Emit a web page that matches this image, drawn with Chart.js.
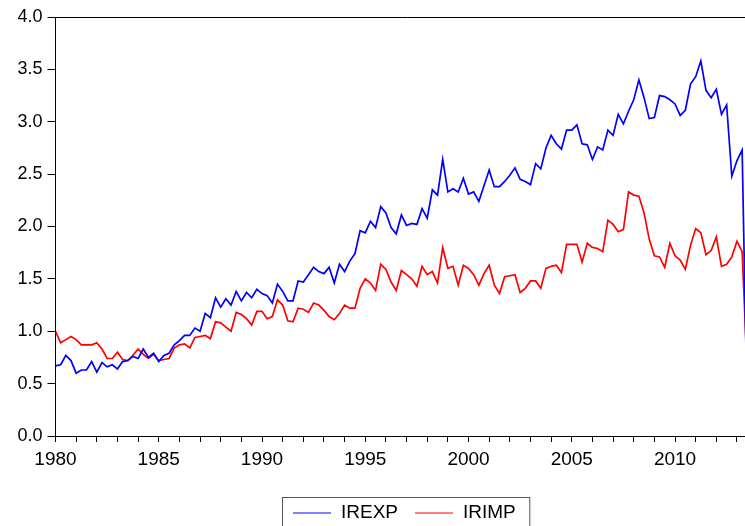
<!DOCTYPE html>
<html>
<head>
<meta charset="utf-8">
<script src="https://cdn.jsdelivr.net/npm/chart.js@4/dist/chart.umd.min.js"></script>
<style>
html, body { margin: 0; padding: 0; overflow: hidden; background: #fff; }
#wrap { width: 745px; height: 526px; overflow: hidden; }
#box { width: 760px; height: 526px; }
</style>
</head>
<body>
<div id="wrap"><div id="box"><canvas id="myChart"></canvas></div></div>
<script>
// quarterly series, first observation 1980Q1
const startYear = 1980;
const seriesNames = ['IREXP', 'IRIMP'];

const irexp = [
    0.67, 0.68, 0.77, 0.72, 0.60, 0.63, 0.63, 0.71, 0.61, 0.70,
    0.66, 0.68, 0.64, 0.71, 0.72, 0.76, 0.74, 0.83, 0.75, 0.79,
    0.71, 0.77, 0.79, 0.87, 0.91, 0.96, 0.96, 1.03, 1.00, 1.17,
    1.13, 1.32, 1.23, 1.31, 1.25, 1.38, 1.29, 1.37, 1.32, 1.40,
    1.36, 1.34, 1.27, 1.45, 1.38, 1.29, 1.29, 1.48, 1.47, 1.54,
    1.61, 1.57, 1.55, 1.61, 1.46, 1.64, 1.57, 1.67, 1.74, 1.96,
    1.94, 2.05, 1.99, 2.19, 2.13, 1.99, 1.93, 2.11, 2.01, 2.03,
    2.02, 2.17, 2.08, 2.35, 2.30, 2.64, 2.33, 2.36, 2.33, 2.46,
    2.31, 2.33, 2.24, 2.39, 2.54, 2.38, 2.38, 2.43, 2.49, 2.56,
    2.45, 2.43, 2.40, 2.60, 2.55, 2.75, 2.87, 2.79, 2.74, 2.92,
    2.92, 2.97, 2.79, 2.78, 2.64, 2.76, 2.73, 2.92, 2.87, 3.07,
    2.98, 3.10, 3.21, 3.40, 3.23, 3.03, 3.04, 3.25, 3.24, 3.21,
    3.17, 3.06, 3.11, 3.36, 3.43, 3.58, 3.30, 3.23, 3.31, 3.07,
    3.16, 2.48, 2.63, 2.73, 0.15
];

const irimp = [
    1.00, 0.89, 0.92, 0.95, 0.92, 0.87, 0.87, 0.87, 0.89, 0.83,
    0.74, 0.74, 0.80, 0.73, 0.72, 0.77, 0.83, 0.78, 0.74, 0.78,
    0.72, 0.73, 0.74, 0.84, 0.87, 0.88, 0.84, 0.94, 0.95, 0.96,
    0.93, 1.09, 1.08, 1.04, 1.00, 1.18, 1.16, 1.12, 1.06, 1.19,
    1.19, 1.12, 1.14, 1.30, 1.25, 1.10, 1.09, 1.22, 1.21, 1.18,
    1.27, 1.25, 1.20, 1.14, 1.11, 1.17, 1.25, 1.22, 1.22, 1.41,
    1.50, 1.46, 1.39, 1.64, 1.59, 1.47, 1.39, 1.58, 1.54, 1.50,
    1.43, 1.62, 1.54, 1.57, 1.46, 1.80, 1.60, 1.62, 1.44, 1.63,
    1.60, 1.54, 1.44, 1.55, 1.63, 1.44, 1.36, 1.52, 1.53, 1.54,
    1.37, 1.41, 1.48, 1.48, 1.41, 1.60, 1.62, 1.63, 1.56, 1.83,
    1.83, 1.83, 1.66, 1.84, 1.80, 1.79, 1.76, 2.06, 2.02, 1.95,
    1.97, 2.33, 2.30, 2.29, 2.13, 1.88, 1.72, 1.71, 1.61, 1.84,
    1.72, 1.68, 1.59, 1.82, 1.98, 1.94, 1.73, 1.77, 1.90, 1.62,
    1.64, 1.71, 1.86, 1.76, 0.60
];

const yTicks = ['0.0', '0.5', '1.0', '1.5', '2.0', '2.5', '3.0', '3.5', '4.0'];
const xLabelEvery = 5;

function toPoints(values) {
    return values.map((v, i) => ({ x: startYear + i / 4, y: v }));
}

// frame line along the top of the plot
const topFrame = {
    id: 'topFrame',
    afterDraw(chart) {
        const ctx = chart.ctx;
        const a = chart.chartArea;
        ctx.save();
        ctx.strokeStyle = '#000';
        ctx.lineWidth = 1;
        ctx.beginPath();
        ctx.moveTo(a.left, Math.round(a.top) + 0.5);
        ctx.lineTo(chart.width, Math.round(a.top) + 0.5);
        ctx.stroke();
        ctx.restore();
    }
};

// boxed legend under the x axis
const boxLegend = {
    id: 'boxLegend',
    afterDraw(chart) {
        const ctx = chart.ctx;
        const a = chart.chartArea;
        const font = "19px 'Liberation Sans', Arial, sans-serif";
        ctx.save();
        ctx.font = font;
        const sets = chart.data.datasets;
        const lineLen = 38, lineGap = 10, itemGap = 17, padL = 10.5, padR = 14;
        let w = padL + padR;
        sets.forEach((ds, i) => {
            w += lineLen + lineGap + ctx.measureText(ds.label).width;
            if (i < sets.length - 1) w += itemGap;
        });
        const cx = (a.left + a.right) / 2 + 4;
        const left = Math.round(cx - w / 2) + 0.5;
        const top = 497.5;
        ctx.strokeStyle = '#555';
        ctx.lineWidth = 1;
        ctx.strokeRect(left, top, w, 40);
        let x = left + padL;
        const midY = 513;
        ctx.textBaseline = 'middle';
        ctx.fillStyle = '#000';
        sets.forEach((ds) => {
            ctx.strokeStyle = ds.borderColor;
            ctx.lineWidth = 1.2;
            ctx.beginPath();
            ctx.moveTo(x, midY);
            ctx.lineTo(x + lineLen, midY);
            ctx.stroke();
            x += lineLen + lineGap;
            ctx.fillText(ds.label, x, midY);
            x += ctx.measureText(ds.label).width + itemGap;
        });
        ctx.restore();
    }
};

Chart.defaults.font.family = "'Liberation Sans', Arial, sans-serif";
Chart.defaults.color = '#000';

const ctx = document.getElementById('myChart').getContext('2d');
const myChart = new Chart(ctx, {
    type: 'line',
    data: {
        datasets: [{
            label: seriesNames[0],
            data: toPoints(irexp),
            borderColor: '#0000ff',
            borderWidth: 1.7,
            pointRadius: 0,
            tension: 0,
            fill: false
        }, {
            label: seriesNames[1],
            data: toPoints(irimp),
            borderColor: '#ff0000',
            borderWidth: 1.7,
            pointRadius: 0,
            tension: 0,
            fill: false
        }]
    },
    options: {
        responsive: true,
        maintainAspectRatio: false,
        animation: false,
        devicePixelRatio: 1,
        layout: {
            padding: { top: 17, left: 0, right: 12.7, bottom: 0 }
        },
        plugins: {
            legend: { display: false },
            tooltip: { enabled: false }
        },
        scales: {
            x: {
                type: 'linear',
                min: 1980,
                max: 2013.5,
                afterFit: (scale) => { scale.height = 90; },
                border: { display: true, color: '#000', width: 1 },
                grid: {
                    drawOnChartArea: false,
                    drawTicks: true,
                    tickLength: 6,
                    color: '#000'
                },
                ticks: {
                    stepSize: 1,
                    autoSkip: false,
                    includeBounds: false,
                    maxRotation: 0,
                    minRotation: 0,
                    padding: 6,
                    font: { size: 19 },
                    callback: (v) => (v % xLabelEvery === 0 ? String(v) : '')
                }
            },
            y: {
                min: 0,
                max: 4,
                afterFit: (scale) => { scale.width = 55.5; },
                border: { display: true, color: '#000', width: 1 },
                grid: {
                    drawOnChartArea: false,
                    drawTicks: true,
                    tickLength: 8,
                    color: '#000'
                },
                ticks: {
                    stepSize: 0.5,
                    padding: 5,
                    font: { size: 18 },
                    callback: (v) => yTicks[Math.round(v * 2)]
                }
            }
        }
    },
    plugins: [topFrame, boxLegend]
});
</script>
</body>
</html>
